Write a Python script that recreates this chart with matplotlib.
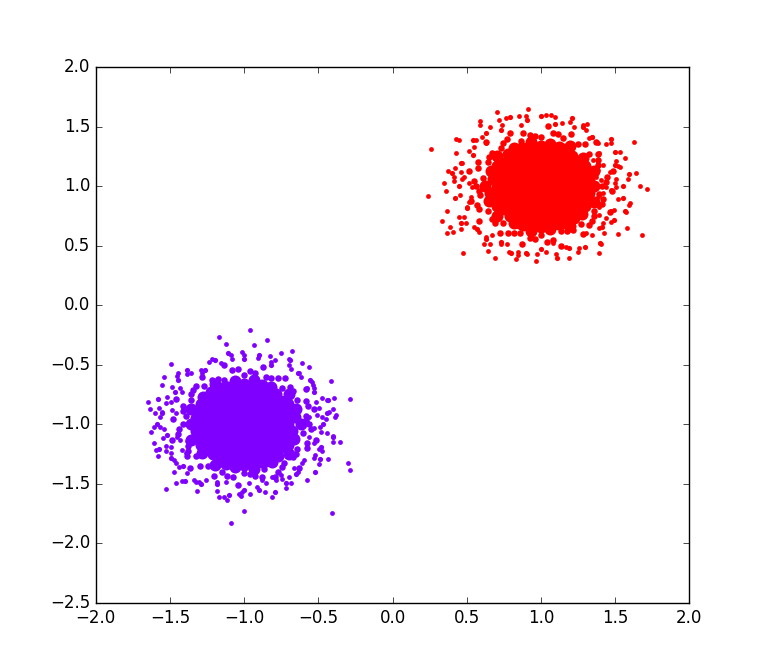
import matplotlib
matplotlib.use("Agg")
import matplotlib.pyplot as plt

plt.style.use("classic")

RED = "#ff0000"
PURPLE = "#8000ff"

# dense middle of each cloud (drawn with big markers so the blob looks solid)
red_core_x = [0.76, 0.76, 0.76,
              0.88, 0.88, 0.88, 0.88, 0.88,
              1.00, 1.00, 1.00, 1.00, 1.00,
              1.12, 1.12, 1.12, 1.12, 1.12,
              1.24, 1.24, 1.24]
red_core_y = [0.875, 1.0, 1.125,
              0.75, 0.875, 1.0, 1.125, 1.25,
              0.75, 0.875, 1.0, 1.125, 1.25,
              0.75, 0.875, 1.0, 1.125, 1.25,
              0.875, 1.0, 1.125]

purple_core_x = [-1.24, -1.24, -1.24,
                 -1.12, -1.12, -1.12, -1.12, -1.12,
                 -1.00, -1.00, -1.00, -1.00, -1.00,
                 -0.88, -0.88, -0.88, -0.88, -0.88,
                 -0.76, -0.76, -0.76]
purple_core_y = [-1.125, -1.0, -0.875,
                 -1.25, -1.125, -1.0, -0.875, -0.75,
                 -1.25, -1.125, -1.0, -0.875, -0.75,
                 -1.25, -1.125, -1.0, -0.875, -0.75,
                 -1.125, -1.0, -0.875]

# rim of the solid part
red_rim_x = [1.36, 1.325, 1.357, 1.294, 1.283, 1.212, 1.195, 1.12, 1.063, 1.0, 0.934, 0.887,
             0.815, 0.775, 0.701, 0.706, 0.662, 0.675, 0.62, 0.655, 0.652, 0.706, 0.701, 0.788,
             0.82, 0.88, 0.934, 1.0, 1.064, 1.113, 1.195, 1.225, 1.276, 1.294, 1.357, 1.325]
red_rim_y = [1.0, 1.057, 1.13, 1.17, 1.238, 1.253, 1.338, 1.329, 1.355, 1.34, 1.374, 1.31,
             1.32, 1.268, 1.251, 1.17, 1.123, 1.057, 1.0, 0.939, 0.873, 0.83, 0.749, 0.747,
             0.688, 0.671, 0.626, 0.66, 0.636, 0.69, 0.662, 0.732, 0.769, 0.83, 0.87, 0.943]

purple_rim_x = [-1.36, -1.325, -1.357, -1.294, -1.283, -1.212, -1.195, -1.12, -1.063, -1.0, -0.934, -0.887,
                -0.815, -0.775, -0.701, -0.706, -0.662, -0.675, -0.62, -0.655, -0.652, -0.706, -0.701, -0.788,
                -0.82, -0.88, -0.934, -1.0, -1.064, -1.113, -1.195, -1.225, -1.276, -1.294, -1.357, -1.325]
purple_rim_y = [-1.0, -1.057, -1.13, -1.17, -1.238, -1.253, -1.338, -1.329, -1.355, -1.34, -1.374, -1.31,
                -1.32, -1.268, -1.251, -1.17, -1.123, -1.057, -1.0, -0.939, -0.873, -0.83, -0.749, -0.747,
                -0.688, -0.671, -0.626, -0.66, -0.636, -0.69, -0.662, -0.732, -0.769, -0.83, -0.87, -0.943]

# crowded band just outside the rim
red_band_x = [1.438, 1.483, 1.381, 1.385, 1.368, 1.247, 1.203, 1.117, 1.044, 0.963, 0.881, 0.793,
              0.747, 0.632, 0.648, 0.574, 0.517, 0.552, 0.582, 0.527, 0.583, 0.582, 0.689, 0.725,
              0.818, 0.870, 0.961, 1.041, 1.135, 1.178, 1.281, 1.325, 1.360, 1.462, 1.415, 1.478,
              1.41, 1.443, 1.376, 1.381, 1.322, 1.296, 1.2, 1.147, 1.078, 1.0, 0.924, 0.863,
              0.77, 0.73, 0.671, 0.645, 0.577, 0.606, 0.56, 0.586, 0.568, 0.645, 0.671, 0.743,
              0.775, 0.856, 0.924, 1.0, 1.08, 1.137, 1.215, 1.27, 1.345, 1.355, 1.413, 1.394]
red_band_y = [1.038, 1.130, 1.178, 1.270, 1.368, 1.352, 1.435, 1.435, 1.508, 1.418, 1.444, 1.444,
              1.360, 1.368, 1.247, 1.199, 1.130, 1.039, 0.963, 0.873, 0.806, 0.707, 0.689, 0.607,
              0.610, 0.517, 0.552, 0.532, 0.498, 0.619, 0.599, 0.675, 0.748, 0.784, 0.889, 0.958,
              1.0, 1.078, 1.137, 1.22, 1.27, 1.352, 1.346, 1.404, 1.443, 1.41, 1.433, 1.376,
              1.398, 1.322, 1.276, 1.205, 1.154, 1.069, 1.0, 0.927, 0.843, 0.795, 0.724, 0.694,
              0.61, 0.605, 0.567, 0.59, 0.547, 0.624, 0.628, 0.678, 0.711, 0.795, 0.85, 0.931]

purple_band_x = [-1.438, -1.483, -1.381, -1.385, -1.368, -1.247, -1.203, -1.117, -1.044, -0.963, -0.881, -0.793,
                 -0.747, -0.632, -0.648, -0.574, -0.517, -0.552, -0.582, -0.527, -0.583, -0.582, -0.689, -0.725,
                 -0.818, -0.870, -0.961, -1.041, -1.135, -1.178, -1.281, -1.325, -1.360, -1.462, -1.415, -1.478,
                 -1.41, -1.443, -1.376, -1.381, -1.322, -1.296, -1.2, -1.147, -1.078, -1.0, -0.924, -0.863,
                 -0.77, -0.73, -0.671, -0.645, -0.577, -0.606, -0.56, -0.586, -0.568, -0.645, -0.671, -0.743,
                 -0.775, -0.856, -0.924, -1.0, -1.08, -1.137, -1.215, -1.27, -1.345, -1.355, -1.413, -1.394]
purple_band_y = [-1.038, -1.130, -1.178, -1.270, -1.368, -1.352, -1.435, -1.435, -1.508, -1.418, -1.444, -1.444,
                 -1.360, -1.368, -1.247, -1.199, -1.130, -1.039, -0.963, -0.873, -0.806, -0.707, -0.689, -0.607,
                 -0.610, -0.517, -0.552, -0.532, -0.498, -0.619, -0.599, -0.675, -0.748, -0.784, -0.889, -0.958,
                 -1.0, -1.078, -1.137, -1.22, -1.27, -1.352, -1.346, -1.404, -1.443, -1.41, -1.433, -1.376,
                 -1.398, -1.322, -1.276, -1.205, -1.154, -1.069, -1.0, -0.927, -0.843, -0.795, -0.724, -0.694,
                 -0.61, -0.605, -0.567, -0.59, -0.547, -0.624, -0.628, -0.678, -0.711, -0.795, -0.85, -0.931]

# thinner halo further out
red_halo_x = [1.55, 1.591, 1.498, 1.502, 1.475, 1.347, 1.285, 1.209, 1.092, 1.0, 0.903, 0.788,
              0.73, 0.627, 0.54, 0.541, 0.464, 0.399, 0.45, 0.419, 0.502, 0.463, 0.571, 0.627,
              0.73, 0.795, 0.901, 1.0, 1.106, 1.188, 1.295, 1.399, 1.414, 1.494, 1.564, 1.551]
red_halo_y = [1.0, 1.104, 1.181, 1.29, 1.399, 1.414, 1.494, 1.573, 1.522, 1.59, 1.551, 1.583,
              1.468, 1.444, 1.386, 1.265, 1.195, 1.106, 1.0, 0.897, 0.819, 0.69, 0.64, 0.556,
              0.532, 0.436, 0.439, 0.47, 0.399, 0.483, 0.489, 0.525, 0.653, 0.715, 0.795, 0.903]

purple_halo_x = [-1.0, -1.104, -1.181, -1.29, -1.399, -1.414, -1.494, -1.573, -1.522, -1.59, -1.551, -1.583,
                 -1.468, -1.444, -1.386, -1.265, -1.195, -1.106, -1.0, -0.897, -0.819, -0.69, -0.64, -0.556,
                 -0.532, -0.436, -0.439, -0.47, -0.399, -0.483, -0.489, -0.525, -0.653, -0.715, -0.795, -0.903]
purple_halo_y = [-1.55, -1.591, -1.498, -1.502, -1.475, -1.347, -1.285, -1.209, -1.092, -1.0, -0.903, -0.788,
                 -0.73, -0.627, -0.54, -0.541, -0.464, -0.399, -0.45, -0.419, -0.502, -0.463, -0.571, -0.627,
                 -0.73, -0.795, -0.901, -1.0, -1.106, -1.188, -1.295, -1.399, -1.414, -1.494, -1.564, -1.551]

# single scattered points
red_x = [0.914, 0.703, 0.766, 0.590, 0.590, 0.658, 0.260, 0.426, 0.449, 0.426, 0.516, 0.374,
         0.422, 0.471, 0.347, 0.359, 0.415, 0.239, 0.455, 0.366, 0.336, 0.388, 0.368, 0.406,
         0.460, 0.449, 0.482, 0.474, 0.617, 0.656, 0.644, 0.691, 0.730, 0.768, 0.786, 0.831,
         0.847, 0.847, 0.909, 0.966, 0.970, 0.516, 0.536, 0.527, 0.516, 0.503, 0.460, 0.482,
         0.471, 0.415, 0.561, 0.550, 0.604, 0.629, 0.718, 0.739, 0.853, 0.898, 0.865, 1.033,
         1.067, 0.550, 0.583, 0.494, 0.629, 0.673, 1.096, 1.141, 1.195, 1.280, 1.307, 1.303,
         1.224, 1.321, 1.344, 1.381, 1.438, 1.472, 1.629, 1.533, 1.566, 1.506, 1.516, 1.533,
         1.465, 1.640, 1.587, 1.506, 1.501, 1.506, 1.667, 1.715, 1.438, 1.472, 1.516, 1.600,
         1.591, 1.494, 1.472, 1.573, 1.472, 1.580, 1.519, 1.681, 1.393, 1.427, 1.344, 1.303,
         1.406, 1.393, 1.258, 1.247, 1.191, 1.168, 1.101, 1.033, 1.078, 1.393, 1.438, 1.415,
         1.348, 1.393, 1.381, 1.415, 1.371, 1.404, 1.348, 1.415, 1.393]
red_y = [1.647, 1.625, 1.574, 1.549, 1.513, 1.499, 1.312, 1.393, 1.387, 1.280, 1.297, 1.129,
         1.155, 1.191, 1.029, 0.961, 1.045, 0.917, 0.925, 0.791, 0.710, 0.657, 0.609, 0.615,
         0.642, 0.743, 0.743, 0.441, 0.514, 0.514, 0.458, 0.399, 0.514, 0.514, 0.449, 0.385,
         0.449, 0.422, 0.430, 0.371, 0.430, 1.026, 0.992, 0.911, 0.869, 0.827, 1.121, 1.079,
         1.057, 1.076, 1.387, 1.331, 1.415, 1.359, 1.555, 1.513, 1.589, 1.589, 1.513, 1.597,
         1.597, 0.659, 0.617, 0.688, 0.575, 0.589, 1.583, 1.532, 1.541, 1.513, 1.521, 1.471,
         1.499, 1.401, 1.415, 1.364, 1.351, 1.359, 1.373, 1.289, 1.238, 1.213, 1.169, 1.163,
         1.121, 1.113, 1.060, 1.057, 1.024, 0.990, 1.001, 0.978, 0.995, 0.967, 0.889, 0.861,
         0.841, 0.799, 0.794, 0.783, 0.699, 0.651, 0.598, 0.589, 0.646, 0.609, 0.589, 0.604,
         0.514, 0.441, 0.478, 0.449, 0.399, 0.491, 0.430, 0.449, 0.520, 0.757, 0.730, 0.688,
         0.856, 0.827, 0.911, 0.940, 1.079, 1.051, 1.219, 1.177, 1.275]

purple_x = [-1.170, -1.125, -1.496, -1.541, -1.445, -1.452, -1.361, -1.388, -1.294, -1.283, -1.238, -1.220,
            -1.159, -1.091, -1.085, -1.013, -1.002, -1.553, -1.485, -1.429, -1.418, -1.519, -1.530, -1.496,
            -1.649, -1.636, -1.575, -1.553, -1.570, -1.602, -1.485, -1.462, -1.609, -1.631, -1.564, -1.541,
            -1.548, -1.609, -1.597, -1.582, -1.530, -1.496, -1.530, -1.496, -1.474, -1.462, -1.440, -1.474,
            -1.384, -1.339, -1.418, -1.460, -1.530, -1.327, -1.305, -1.260, -1.317, -1.186, -1.170, -1.137,
            -1.118, -1.182, -1.125, -1.035, -1.024, -1.002, -1.091, -1.013, -1.418, -1.395, -1.452, -1.429,
            -0.961, -0.849, -0.934, -0.907, -0.828, -0.795, -0.822, -0.754, -0.680, -0.698, -0.612, -0.563,
            -0.698, -0.687, -0.631, -0.619, -0.545, -0.536, -0.417, -0.575, -0.530, -0.478, -0.440, -0.395,
            -0.289, -0.496, -0.518, -0.428, -0.399, -0.383, -0.388, -0.447, -0.478, -0.507, -0.563, -0.489,
            -0.484, -0.527, -0.440, -0.401, -0.399, -0.356, -0.530, -0.563, -0.496, -0.478, -0.523, -0.530,
            -0.496, -0.437, -0.302, -0.289, -0.597, -0.608, -0.664, -0.635, -0.698, -0.687, -0.575, -0.720,
            -0.811, -0.860, -0.912, -0.968, -0.961, -0.410, -0.754, -0.743, -0.811, -0.788, -0.878, -0.855]
purple_y = [-0.264, -0.326, -0.496, -0.600, -0.572, -0.594, -0.572, -0.580, -0.544, -0.572, -0.474, -0.454,
            -0.488, -0.418, -0.454, -0.390, -0.418, -0.670, -0.684, -0.698, -0.726, -0.773, -0.819, -0.810,
            -0.810, -0.874, -0.866, -0.894, -0.936, -0.902, -0.880, -0.908, -1.025, -1.062, -1.020, -1.042,
            -1.117, -1.159, -1.216, -1.264, -1.182, -1.188, -1.224, -1.238, -1.300, -1.327, -1.356, -1.398,
            -1.411, -1.468, -1.476, -1.490, -1.543, -1.487, -1.482, -1.468, -1.557, -1.557, -1.608, -1.608,
            -1.635, -1.482, -1.482, -1.588, -1.602, -1.725, -1.831, -1.566, -1.216, -1.243, -1.104, -1.132,
            -0.208, -0.292, -0.334, -0.441, -0.424, -0.460, -0.474, -0.399, -0.382, -0.452, -0.488, -0.516,
            -0.502, -0.538, -0.572, -0.600, -0.642, -0.670, -0.636, -0.698, -0.698, -0.777, -0.796, -0.782,
            -0.787, -0.866, -0.810, -0.894, -0.874, -0.922, -0.941, -0.955, -0.936, -0.922, -0.936, -1.020,
            -1.062, -1.033, -1.070, -1.098, -1.151, -1.146, -1.154, -1.104, -1.210, -1.222, -1.258, -1.285,
            -1.333, -1.289, -1.322, -1.384, -1.300, -1.327, -1.369, -1.398, -1.440, -1.490, -1.468, -1.532,
            -1.608, -1.566, -1.524, -1.495, -1.585, -1.742, -1.426, -1.462, -1.440, -1.468, -1.468, -1.490]

fig = plt.figure(figsize=(7.66, 6.70), dpi=100, facecolor="white")
ax = fig.add_subplot(111)

# (x, y, colour, marker area) from the outer points inwards
layers = [
    (purple_x, purple_y, PURPLE, 12), (red_x, red_y, RED, 12),
    (purple_halo_x, purple_halo_y, PURPLE, 14), (red_halo_x, red_halo_y, RED, 14),
    (purple_band_x, purple_band_y, PURPLE, 22), (red_band_x, red_band_y, RED, 22),
    (purple_rim_x, purple_rim_y, PURPLE, 75), (red_rim_x, red_rim_y, RED, 75),
    (purple_core_x, purple_core_y, PURPLE, 400), (red_core_x, red_core_y, RED, 400),
]
for xs, ys, col, size in layers:
    ax.scatter(xs, ys, s=size, c=col, linewidths=0)

ax.set_xlim(-2.0, 2.0)
ax.set_ylim(-2.5, 2.0)

fig.savefig("out.png", dpi=100, facecolor="white")
